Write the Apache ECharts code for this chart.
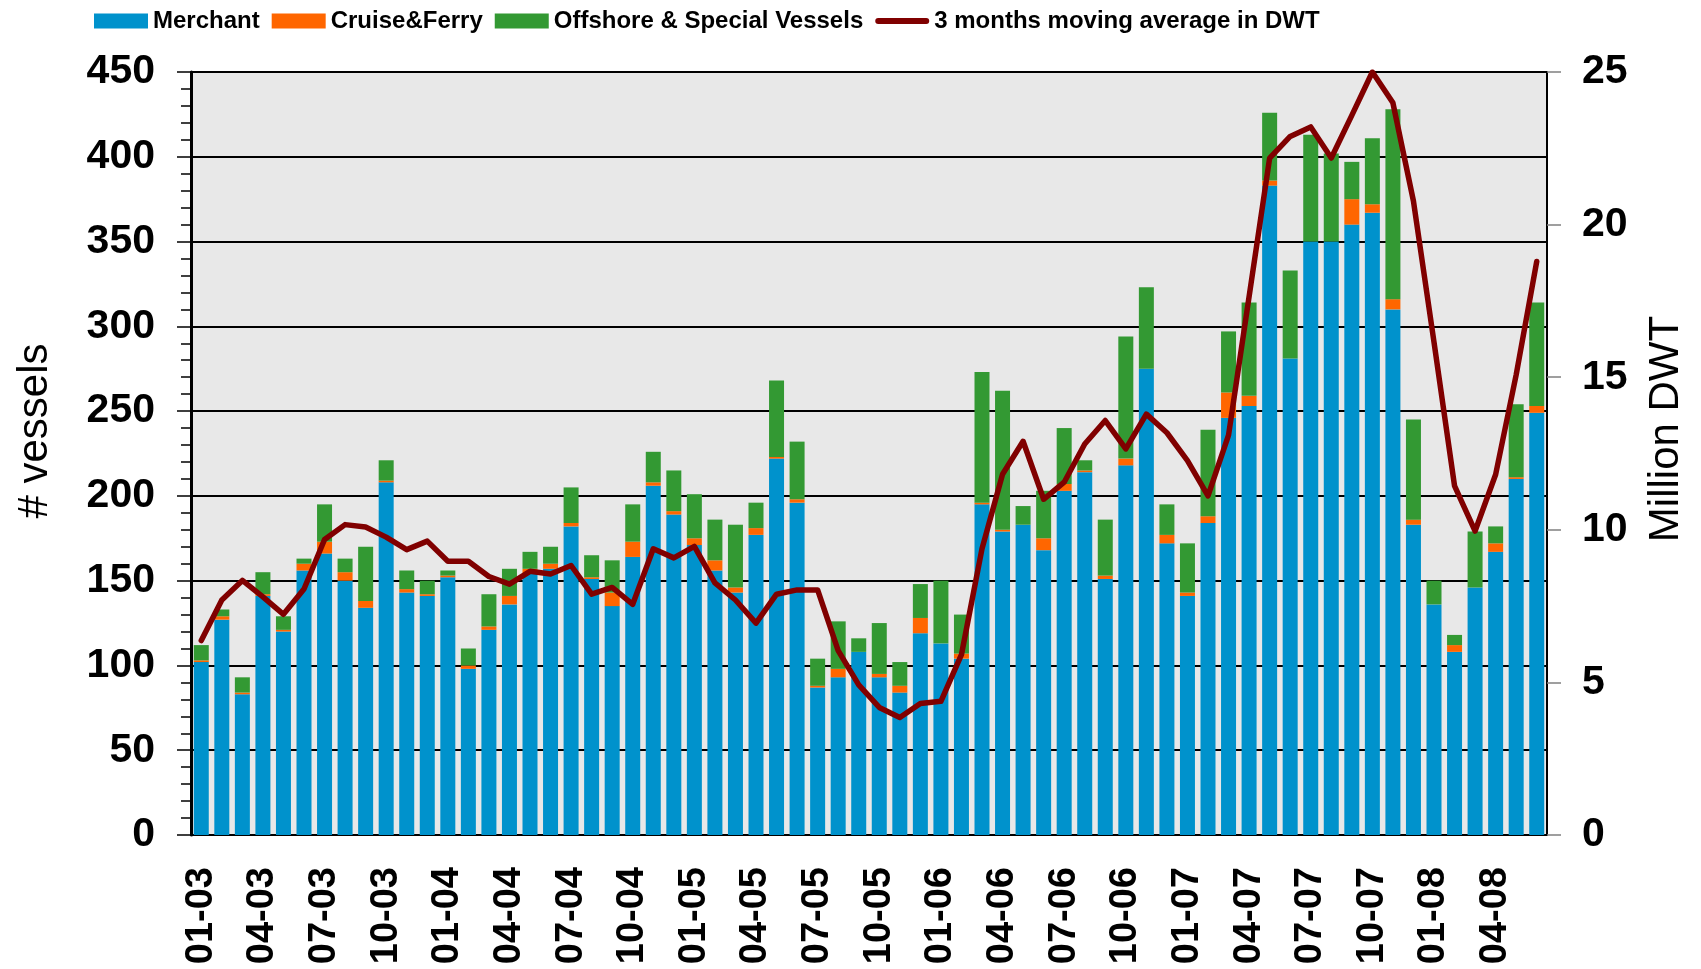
<!DOCTYPE html>
<html>
<head>
<meta charset="utf-8">
<script src="https://cdn.jsdelivr.net/npm/echarts@6/dist/echarts.min.js"></script>
<style>
html,body{margin:0;padding:0;background:#fff;}
#chart{width:1701px;height:969px;}
</style>
</head>
<body>
<div id="chart"></div>
<script>
const months = [
 "01-03","02-03","03-03","04-03","05-03","06-03","07-03","08-03","09-03","10-03","11-03","12-03",
 "01-04","02-04","03-04","04-04","05-04","06-04","07-04","08-04","09-04","10-04","11-04","12-04",
 "01-05","02-05","03-05","04-05","05-05","06-05","07-05","08-05","09-05","10-05","11-05","12-05",
 "01-06","02-06","03-06","04-06","05-06","06-06","07-06","08-06","09-06","10-06","11-06","12-06",
 "01-07","02-07","03-07","04-07","05-07","06-07","07-07","08-07","09-07","10-07","11-07","12-07",
 "01-08","02-08","03-08","04-08","05-08","06-08"
];
const merchant = [102,127,83,141,120,156,166,150,134,208,143,141,
 152,98,121,136,154,157,182,151,135,164,206,189,
 171,156,143,177,222,196,87,93,108,93,84,119,
 113,104,195,179,183,168,203,214,151,218,275,172,
 141,184,246,253,383,281,350,350,360,367,310,183,
 136,108,146,167,210,249];
const cruiseFerry = [1,2,1,1,1,4,7,5,4,1,2,1,
 1,2,2,5,3,3,2,1,8,9,2,2,
 4,6,3,4,1,2,1,5,0,2,4,9,
 0,3,1,1,0,7,4,1,2,4,0,5,
 2,4,15,6,3,0,0,0,15,5,6,3,
 0,4,0,5,1,4];
const offshore = [9,4,9,13,8,3,22,8,32,12,11,8,
 3,10,19,16,10,10,21,13,19,22,18,24,
 26,24,37,15,45,34,16,28,8,30,14,20,
 37,23,77,82,11,28,33,6,33,72,48,18,
 29,51,36,55,40,52,63,52,22,39,112,59,
 14,6,33,10,43,61];
const dwtAvg = [6.37,7.70,8.34,7.80,7.23,8.06,9.68,10.17,10.09,9.76,9.35,9.63,
 8.97,8.97,8.47,8.22,8.64,8.55,8.83,7.89,8.11,7.56,9.38,9.08,
 9.46,8.26,7.70,6.94,7.89,8.03,8.03,6.04,4.92,4.18,3.85,4.31,
 4.38,5.91,9.38,11.82,12.90,11.00,11.56,12.81,13.58,12.65,13.79,13.18,
 12.27,11.11,13.10,17.64,22.18,22.89,23.20,22.18,23.58,25.00,23.99,20.77,
 16.15,11.44,9.96,11.81,15.08,18.79];
const leftTicks = {min:0, max:450, interval:50};
const rightTicks = {min:0, max:25, interval:5};

const FONT = "'Liberation Sans', Arial, sans-serif";
const chart = echarts.init(document.getElementById('chart'), null, {renderer:'canvas'});
chart.setOption({
  animation:false,
  textStyle:{fontFamily:FONT},
  legend:{
    left:89, top:4,
    itemWidth:54, itemHeight:15, itemGap:12,
    textStyle:{fontFamily:"'Liberation Sans Narrow', 'Arial Narrow', " + FONT, fontWeight:'bold', fontSize:24, color:'#000'},
    data:[
      {name:'Merchant', icon:'rect'},
      {name:'Cruise&Ferry', icon:'rect'},
      {name:'Offshore & Special Vessels', icon:'rect'},
      {name:'3 months moving average in DWT', icon:'path://M3,0 L51,0 A3,3 0 0 1 51,6 L3,6 A3,3 0 0 1 3,0 Z', itemStyle:{color:'#800000'}}
    ]
  },
  grid:{left:191, right:154, top:72, bottom:134, show:true, backgroundColor:'#e8e8e8', borderColor:'#000', borderWidth:1.5},
  xAxis:{
    type:'category', data:months,
    axisLine:{lineStyle:{color:'#000', width:2}},
    axisTick:{show:false},
    axisLabel:{interval:2, rotate:90, margin:32, fontSize:38, fontWeight:'bold', color:'#000', fontFamily:FONT}
  },
  yAxis:[{
    type:'value', min:leftTicks.min, max:leftTicks.max, interval:leftTicks.interval,
    axisLine:{show:true, lineStyle:{color:'#000', width:3}},
    axisTick:{show:true, length:14, lineStyle:{color:'#000', width:1.5}},
    minorTick:{show:true, splitNumber:5, length:10, lineStyle:{color:'#000', width:1.5}},
    splitLine:{show:true, lineStyle:{color:'#000', width:2}},
    axisLabel:{fontSize:41, fontWeight:'bold', color:'#000', margin:36, fontFamily:FONT}
  },{
    type:'value', position:'right', min:rightTicks.min, max:rightTicks.max, interval:rightTicks.interval,
    axisLine:{show:true, lineStyle:{color:'#000', width:2}},
    axisTick:{show:true, length:14, lineStyle:{color:'#808080', width:1.5}},
    splitLine:{show:false},
    axisLabel:{fontSize:41, fontWeight:'bold', color:'#000', margin:35, fontFamily:FONT}
  }],
  graphic:[
    {type:'text', x:35, y:431, rotation:Math.PI/2, style:{text:'# vessels', fontSize:42, fontFamily:FONT, fill:'#000', textAlign:'center', textVerticalAlign:'middle'}},
    {type:'text', x:1666, y:429, rotation:Math.PI/2, style:{text:'Million DWT', fontSize:42, fontFamily:FONT, fill:'#000', textAlign:'center', textVerticalAlign:'middle'}}
  ],
  series:[
    {name:'Merchant', type:'bar', stack:'v', data:merchant, barWidth:15, itemStyle:{color:'#0092cc'}},
    {name:'Cruise&Ferry', type:'bar', stack:'v', data:cruiseFerry, barWidth:15, itemStyle:{color:'#ff6600'}},
    {name:'Offshore & Special Vessels', type:'bar', stack:'v', data:offshore, barWidth:15, itemStyle:{color:'#339933'}},
    {name:'3 months moving average in DWT', type:'line', yAxisIndex:1, data:dwtAvg, symbol:'none',
     lineStyle:{color:'#800000', width:5.5, cap:'round', join:'round'}, itemStyle:{color:'#800000'}, z:5}
  ]
});
</script>
</body>
</html>
